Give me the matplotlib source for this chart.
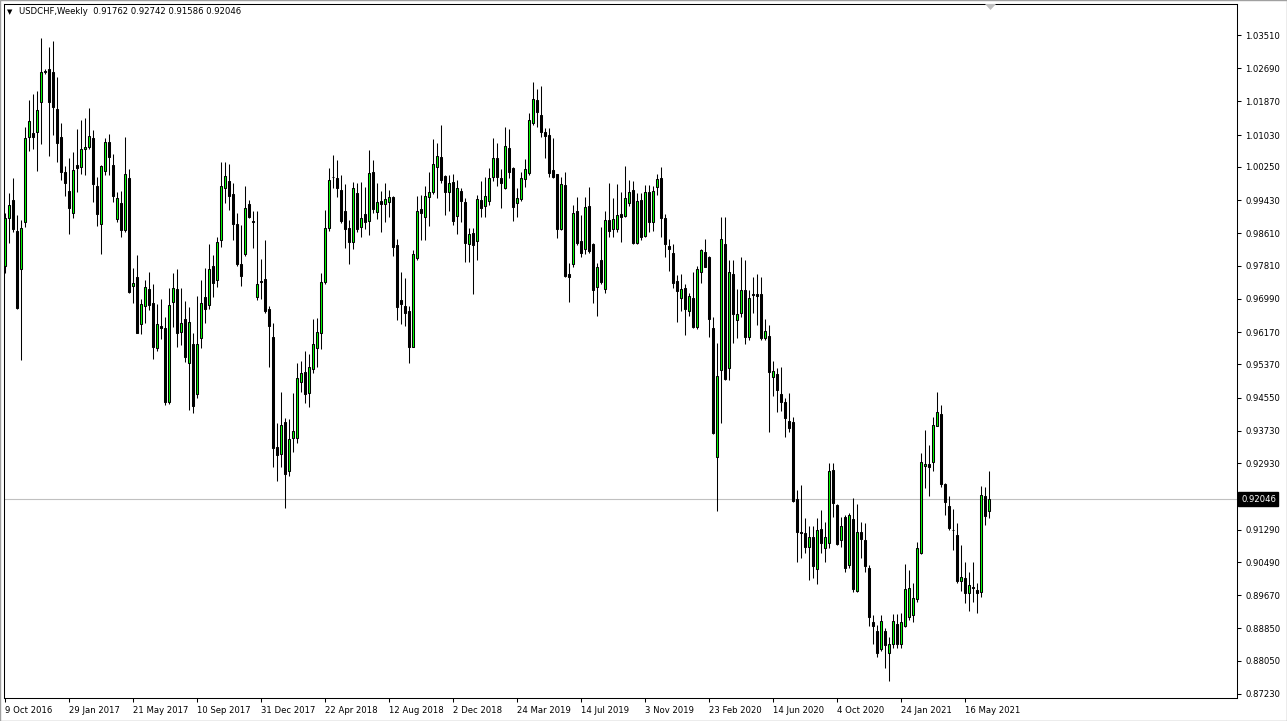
import numpy as np
import matplotlib
matplotlib.use('Agg')
import matplotlib.pyplot as plt
from matplotlib.patches import Rectangle, Polygon

# %% Datos: velas semanales USDCHF (9 Oct 2016 - 27 Jun 2021)
symbol = 'USDCHF,Weekly'

opens = [
    .9781, .9898, .9943, .9867, .9772, .9888, 1.0100, 1.0108, 1.0111, 1.0185,
    1.0262, 1.0267, 1.0259, 1.0168, 1.0098, 1.0012, .9966, .9911, 1.0030, 1.0024,
    1.0069, 1.0075, 1.0096, .9978, .9883, 1.0016, 1.0086, 1.0030, .9896, .9935,
    .9869, .9997, .9731, .9753, .9636, .9682, .9723, .9688, .9577, .9632,
    .9627, .9444, .9691, .9723, .9617, .9649, .9540, .9588, .9464, .9602,
    .9703, .9684, .9780, .9746, .9845, .9972, .9990, .9958, .9884, .9785,
    .9809, .9934, .9891, .9703, .9743, .9748, .9674, .9604, .9334, .9315,
    .9394, .9274, .9355, .9355, .9493, .9518, .9466, .9525, .9577, .9616,
    .9742, .9874, 1.0001, .9997, .9968, .9916, .9874, .9840, .9961, .9877,
    .9909, .9892, 1.0012, .9913, .9941, .9933, .9938, .9950, .9832, .9696,
    .9682, .9669, .9581, .9801, .9920, .9901, .9952, .9964, 1.0026, 1.0049,
    1.0003, .9962, .9987, .9905, .9966, .9938, .9834, .9863, .9843, .9943,
    .9929, .9941, .9999, 1.0046, .9998, .9974, 1.0073, 1.0023, .9935, .9945,
    .9995, 1.0009, 1.0133, 1.0190, 1.0153, 1.0112, 1.0104, 1.0018, 1.0008, .9871,
    .9980, .9761, .9785, .9916, .9842, .9822, .9929, .9835, .9728, .9794,
    .9723, .9894, .9871, .9871, .9909, .9904, .9937, .9968, .9836, .9943,
    .9855, .9962, .9888, .9976, .9997, .9898, .9830, .9813, .9744, .9701,
    .9725, .9670, .9701, .9629, .9765, .9816, .9803, .9628, .9309, .9524,
    .9835, .9528, .9761, .9647, .9665, .9721, .9606, .9710, .9712, .9711,
    .9603, .9608, .9507, .9514, .9464, .9445, .9398, .9396, .9204, .9123,
    .9120, .9085, .9112, .9032, .9130, .9083, .9096, .9277, .9190, .9104,
    .9161, .9042, .9156, .8978, .9124, .9104, .9035, .8900, .8879, .8834,
    .8879, .8824, .8846, .8895, .8846, .8890, .8914, .8918, .8957, .9072,
    .9286, .9291, .9297, .9386, .9415, .9241, .9188, .9129, .9116, .9003,
    .9009, .8973, .8988, .8980, .8976, .9211, .91762,
]
highs = [
    .9911, .9960, .9997, .9906, .9894, 1.0123, 1.0190, 1.0205, 1.0213, 1.0343,
    1.0266, 1.0322, 1.0336, 1.0247, 1.0133, 1.0027, 1.0046, 1.0061, 1.0119, 1.0141,
    1.0145, 1.0170, 1.0116, 1.0001, 1.0030, 1.0097, 1.0106, 1.0057, .9964, .9966,
    1.0100, 1.0019, .9775, .9808, .9698, .9746, .9765, .9736, .9687, .9698,
    .9654, .9725, .9762, .9773, .9725, .9695, .9680, .9616, .9705, .9746,
    .9775, .9834, .9808, .9851, 1.0037, 1.0037, 1.0032, .9986, .9911, .9882,
    .9978, .9943, .9915, .9915, .9798, .9845, .9682, .9639, .9392, .9470,
    .9404, .9403, .9466, .9540, .9546, .9571, .9562, .9650, .9651, .9764,
    .9919, 1.0022, 1.0055, 1.0041, 1.0005, .9983, .9894, .9989, .9985, .9989,
    .9976, 1.0067, 1.0042, .9986, .9966, .9985, .9968, .9953, .9846, .9766,
    .9750, .9682, .9820, .9953, .9956, .9978, 1.0013, 1.0094, 1.0083, 1.0129,
    1.0005, 1.0005, 1.0007, .9993, .9974, .9949, .9875, .9874, .9956, .9990,
    .9999, 1.0023, 1.0097, 1.0083, 1.0019, 1.0124, 1.0119, 1.0026, .9972, 1.0012,
    1.0044, 1.0158, 1.0236, 1.0218, 1.0226, 1.0122, 1.0121, 1.0097, 1.0008, 1.0001,
    1.0012, .9787, .9931, .9952, .9906, .9950, .9975, .9836, .9787, .9877,
    .9916, .9985, .9948, .9983, .9962, 1.0028, .9993, .9991, .9960, .9961,
    .9980, .9980, .9978, 1.0008, 1.0026, .9909, .9846, .9835, .9758, .9761,
    .9736, .9713, .9766, .9780, .9822, .9846, .9805, .9654, .9591, .9901,
    .9901, .9795, .9795, .9724, .9802, .9795, .9722, .9754, .9761, .9754,
    .9650, .9635, .9546, .9528, .9532, .9454, .9467, .9408, .9227, .9239,
    .9157, .9137, .9139, .9159, .9178, .9149, .9293, .9293, .9192, .9161,
    .9164, .9170, .9207, .9192, .9149, .9145, .9042, .8918, .8894, .8917,
    .8887, .8865, .8920, .8920, .8923, .9044, .9030, .8997, .9099, .9318,
    .9375, .9338, .9408, .9470, .9437, .9244, .9211, .9179, .9145, .9091,
    .9050, .9025, .9050, .8997, .9237, .9235, .92742,
]
lows = [
    .9764, .9838, .9865, .9675, .9547, .9877, 1.0065, 1.0069, 1.0016, 1.0082,
    1.0255, 1.0052, 1.0104, 1.0038, .9993, .9954, .9859, .9900, .9964, 1.0008,
    1.0005, 1.0069, .9939, .9879, .9810, 1.0005, 1.0005, .9939, .9890, .9853,
    .9865, .9714, .9690, .9614, .9612, .9639, .9672, .9550, .9571, .9599,
    .9437, .9440, .9629, .9581, .9585, .9544, .9425, .9417, .9454, .9577,
    .9640, .9673, .9703, .9728, .9828, .9937, .9919, .9845, .9780, .9732,
    .9805, .9900, .9826, .9696, .9699, .9664, .9532, .9285, .9248, .9285,
    .9183, .9262, .9322, .9342, .9470, .9441, .9431, .9517, .9532, .9575,
    .9735, .9867, .9974, .9950, .9886, .9824, .9785, .9822, .9865, .9853,
    .9871, .9857, .9912, .9897, .9865, .9890, .9902, .9805, .9647, .9637,
    .9631, .9540, .9580, .9794, .9845, .9845, .9880, .9958, .9949, .9986,
    .9906, .9915, .9882, .9859, .9890, .9790, .9790, .9711, .9795, .9901,
    .9901, .9931, .9990, .9979, .9924, .9971, .9997, .9892, .9902, .9941,
    .9976, 1.0005, 1.0129, 1.0124, 1.0100, 1.0048, 1.0001, .9997, .9849, .9869,
    .9754, .9692, .9779, .9832, .9803, .9810, .9813, .9690, .9658, .9735,
    .9713, .9853, .9853, .9865, .9840, .9902, .9929, .9835, .9835, .9845,
    .9851, .9865, .9867, .9956, .9853, .9803, .9769, .9725, .9643, .9670,
    .9610, .9657, .9627, .9624, .9739, .9777, .9606, .9365, .9174, .9392,
    .9499, .9499, .9589, .9602, .9655, .9588, .9598, .9664, .9635, .9598,
    .9598, .9371, .9458, .9419, .9421, .9359, .9371, .9198, .9050, .9058,
    .9071, .9005, .9009, .8994, .9071, .9050, .9083, .9161, .9091, .9087,
    .9025, .9034, .8976, .8976, .9058, .9025, .8890, .8846, .8815, .8828,
    .8788, .8754, .8836, .8836, .8836, .8888, .8906, .8902, .8951, .9069,
    .9231, .9211, .9275, .9384, .9235, .9165, .9128, .9079, .8997, .8978,
    .8949, .8927, .8951, .8923, .8962, .9141, .91586,
]
closes = [
    .9898, .9931, .9871, .9677, .9874, 1.0096, 1.0139, 1.0100, 1.0166, 1.0259,
    1.0259, 1.0185, 1.0174, 1.0083, 1.0013, .9985, .9924, 1.0018, 1.0022, 1.0069,
    1.0074, 1.0102, .9982, .9908, 1.0027, 1.0086, 1.0050, .9954, .9948, .9869,
    1.0008, .9717, .9738, .9616, .9687, .9728, .9684, .9579, .9636, .9628,
    .9445, .9684, .9725, .9614, .9639, .9555, .9643, .9435, .9588, .9688,
    .9673, .9773, .9738, .9839, .9978, 1.0003, .9954, .9883, .9785, .9756,
    .9923, .9902, .9889, .9735, .9742, .9668, .9633, .9330, .9314, .9388,
    .9266, .9352, .9373, .9503, .9515, .9464, .9530, .9587, .9617, .9740,
    .9874, .9993, .9999, .9972, .9892, .9871, .9840, .9972, .9871, .9898,
    .9890, 1.0011, .9921, .9938, .9933, .9945, .9952, .9828, .9680, .9687,
    .9665, .9580, .9810, .9915, .9912, .9953, .9962, 1.0032, 1.0052, .9993,
    .9964, .9985, .9892, .9972, .9941, .9836, .9859, .9831, .9945, .9924,
    .9953, .9997, 1.0046, .9999, .9985, 1.0077, 1.0013, .9927, .9948, .9997,
    1.0019, 1.0141, 1.0193, 1.0162, 1.0112, 1.0102, 1.0009, 1.0001, .9872, .9983,
    .9756, .9754, .9911, .9836, .9812, .9927, .9818, .9721, .9779, .9740,
    .9894, .9868, .9896, .9906, .9902, .9948, .9962, .9836, .9942, .9853,
    .9964, .9890, .9966, .9995, .9898, .9834, .9822, .9739, .9719, .9723,
    .9673, .9707, .9630, .9772, .9820, .9779, .9649, .9367, .9509, .9846,
    .9501, .9765, .9662, .9661, .9721, .9606, .9701, .9708, .9707, .9603,
    .9620, .9519, .9521, .9474, .9444, .9404, .9380, .9200, .9122, .9121,
    .9085, .9112, .9038, .9128, .9096, .9112, .9274, .9194, .9093, .9139,
    .9034, .9165, .8983, .9123, .9106, .9038, .8914, .8892, .8825, .8904,
    .8843, .8846, .8904, .8846, .8902, .8982, .8984, .8960, .9083, .9295,
    .9291, .9285, .9388, .9419, .9241, .9197, .9133, .9128, .9002, .9012,
    .8972, .8992, .8986, .8973, .9215, .9163, .92046,
]

# Escala de precios (eje derecho)
price_ticks = [1.03510, 1.02690, 1.01870, 1.01030, 1.00250, 0.99430, 0.98610,
               0.97810, 0.96990, 0.96170, 0.95370, 0.94550, 0.93730, 0.92930,
               0.91290, 0.90490, 0.89670, 0.88850, 0.88050, 0.87230]

# Etiquetas de fecha (una cada 16 semanas)
date_labels = ['9 Oct 2016', '29 Jan 2017', '21 May 2017', '10 Sep 2017',
               '31 Dec 2017', '22 Apr 2018', '12 Aug 2018', '2 Dec 2018',
               '24 Mar 2019', '14 Jul 2019', '3 Nov 2019', '23 Feb 2020',
               '14 Jun 2020', '4 Oct 2020', '24 Jan 2021', '16 May 2021']
weeks_between_labels = 16

n = len(opens)
assert all(len(a) == n for a in (highs, lows, closes)), [len(a) for a in (opens, highs, lows, closes)]

o = np.array(opens)
h = np.array(highs)
l = np.array(lows)
c = np.array(closes)
x = np.arange(n)
up = c > o
last = c[-1]

# %% Figura
W, H = 1287, 721
fs = 6.1  # tamaño de letra de las etiquetas
fig = plt.figure(figsize=(W / 100, H / 100), dpi=100)
fig.patch.set_facecolor('white')
ax = fig.add_axes([4 / W, 1 - 698 / H, (1237 - 4) / W, (698 - 4) / H])
ax.set_xlim(-0.25, 308)
ax.set_ylim(0.87131, 1.04276)

# línea del precio actual
ax.axhline(last, color='#c0c0c0', lw=0.8, zorder=0)

# mechas y cuerpos
ax.vlines(x, l, h, color='black', lw=0.75, zorder=1)
lo = np.minimum(o, c)
hi = np.maximum(o, c)
ax.bar(x, hi - lo, bottom=lo, width=0.5,
       color=np.where(up, '#00ff00', 'black'),
       edgecolor='black', linewidth=0.75, zorder=2)

# ejes
for s in ax.spines.values():
    s.set_color('black')
    s.set_linewidth(0.75)

ax.yaxis.tick_right()
ax.set_yticks(price_ticks)
ax.set_yticklabels([f'{v:.5f}' for v in price_ticks])
ax.tick_params(axis='y', length=3, width=0.75, pad=3, labelsize=fs, colors='black')

idx = np.arange(len(date_labels)) * weeks_between_labels
ax.set_xticks(idx)
ax.set_xticklabels(date_labels)
for t in ax.get_xticklabels():
    t.set_ha('left')
ax.tick_params(axis='x', length=3, width=0.75, pad=2.5, labelsize=fs, colors='black')

# etiqueta del precio actual
ax.annotate(f'{last:.5f}', xy=(1, last), xycoords=('axes fraction', 'data'),
            xytext=(4, 0), textcoords='offset pixels', ha='left', va='center',
            color='white', fontsize=fs,
            bbox=dict(boxstyle='square,pad=0.3', fc='black', ec='black'))

# cabecera
fig.text(7 / W, 1 - 12 / H, '▼', fontsize=5, va='center', ha='left')
fig.text(19 / W, 1 - 12 / H,
         f'{symbol}  {o[-1]:.5f} {h[-1]:.5f} {l[-1]:.5f} {c[-1]:.5f}',
         fontsize=fs, va='center', ha='left')

# marcador de desplazamiento del gráfico
fig.patches.append(Polygon([[985 / W, 1 - 4 / H], [996 / W, 1 - 4 / H], [990.5 / W, 1 - 10 / H]],
                           closed=True, transform=fig.transFigure, fc='#c0c0c0', ec='none'))
# borde de la ventana
fig.patches.append(Rectangle((0, 0), 1, 1, transform=fig.transFigure, fill=False,
                             ec='#a0a0a0', lw=1))

fig.savefig('out.png', dpi=100)
